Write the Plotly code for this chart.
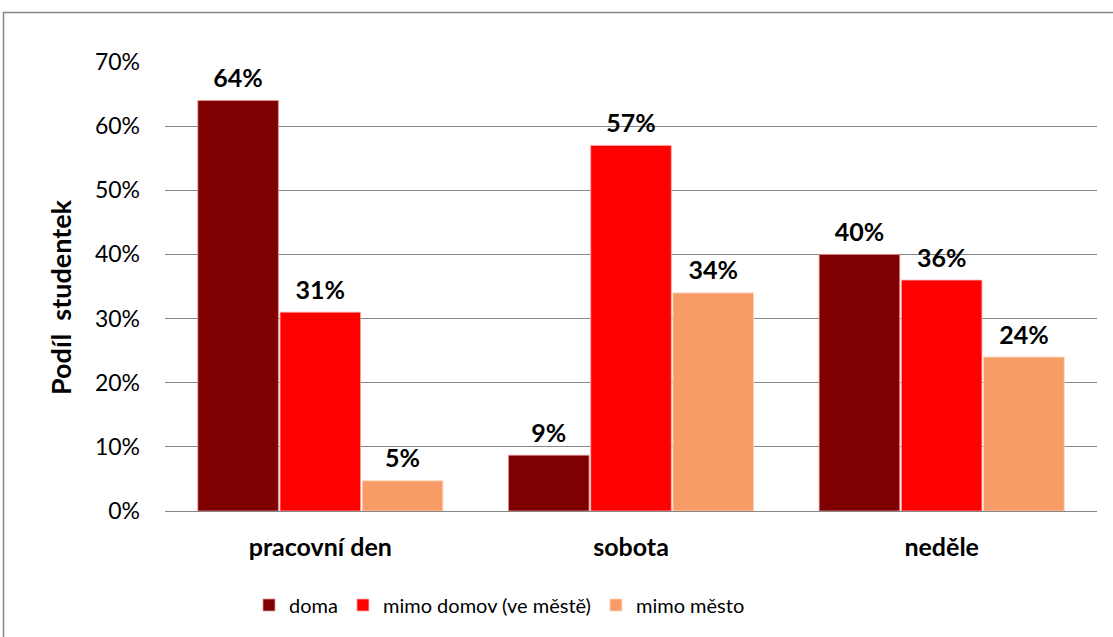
import plotly.graph_objects as go

categories = ["pracovní den", "sobota", "neděle"]
series_names = ["doma", "mimo domov (ve městě)", "mimo město"]
doma = [64, 9, 40]
mimo_domov = [31, 57, 36]
mimo_mesto = [5, 34, 24]
bar_values = [[64, 8.7, 40], [31, 57, 36], [4.7, 34, 24]]
label_values = [doma, mimo_domov, mimo_mesto]
colors = ["#7F0000", "#FF0000", "#F79B67"]
edge_colors = ["rgba(230,150,150,0.8)", "rgba(255,170,170,0.8)", "rgba(255,210,180,0.9)"]
y_ticks = [0, 10, 20, 30, 40, 50, 60, 70]
y_tick_labels = [f"{v}%" for v in y_ticks]
y_title = "Podíl  studentek"

FONT = "Lato, Carlito, 'Open Sans', sans-serif"
W, H = 1113, 637
L, R, T, B = 165, 16, 62, 126

fig = go.Figure()
for i, name in enumerate(series_names):
    fig.add_trace(go.Bar(
        x=categories, y=bar_values[i], name=name,
        marker=dict(color=colors[i], line=dict(color=edge_colors[i], width=1)),
        offsetgroup=str(i), alignmentgroup="a",
        hoverinfo="skip",
    ))
for i, name in enumerate(series_names):
    fig.add_trace(go.Scatter(
        x=categories, y=bar_values[i], mode="markers+text",
        text=[f"{v}%" for v in label_values[i]],
        textposition="top center",
        textfont=dict(family=FONT, size=25, color="black", weight="bold"),
        marker=dict(size=10, color="rgba(0,0,0,0)"),
        offsetgroup=str(i), alignmentgroup="a",
        showlegend=False, cliponaxis=False, hoverinfo="skip",
    ))

pw = W - L - R
ph = H - T - B
fig.add_shape(type="rect", xref="paper", yref="paper",
              x0=(3.5 - L) / pw, x1=(W + 20 - L) / pw,
              y0=(H - B - (H + 20)) / ph, y1=(H - B - 12.5) / ph,
              line=dict(color="#868686", width=1.5), layer="below")
fig.add_annotation(text=y_title, textangle=-90, showarrow=False,
                   xref="paper", yref="paper",
                   x=(60 - L) / pw, y=(H - B - 297) / ph,
                   xanchor="center", yanchor="middle",
                   font=dict(family=FONT, size=27, color="black", weight="bold"))

fig.update_layout(
    width=W, height=H,
    margin=dict(l=L, r=R, t=T, b=B, pad=0),
    paper_bgcolor="white", plot_bgcolor="white",
    barmode="group", bargap=0.206, bargroupgap=0.02,
    scattermode="group", scattergap=0.206,
    font=dict(family=FONT, size=20, color="black"),
    showlegend=True,
    legend=dict(orientation="h", x=(249 - L) / pw, xanchor="left",
                y=(H - B - 605) / ph, yanchor="middle",
                font=dict(family=FONT, size=20, color="black"),
                itemwidth=30, traceorder="normal"),
    xaxis=dict(showline=False, showgrid=False, ticks="",
               tickfont=dict(family=FONT, size=25, color="black", weight="bold"),
               ticklabelstandoff=19),
    yaxis=dict(range=[0, 70], tickvals=y_ticks, ticktext=y_tick_labels,
               showgrid=True, gridcolor="#868686", gridwidth=1,
               zeroline=True, zerolinecolor="#868686", zerolinewidth=1,
               showline=False, ticks="",
               tickfont=dict(family=FONT, size=23, color="black"),
               ticklabelstandoff=24),
)

fig.write_html("out.html", config={"displayModeBar": False},
               post_script="document.body.style.margin='0';")
